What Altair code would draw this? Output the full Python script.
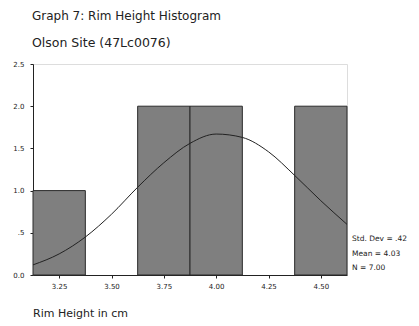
import altair as alt
import pandas as pd

# Histogram bins (rim height in cm) and counts
bin_start = [3.125, 3.375, 3.625, 3.875, 4.125, 4.375]
bin_end = [3.375, 3.625, 3.875, 4.125, 4.375, 4.625]
counts = [1, 0, 2, 2, 0, 2]

# Fitted normal curve
curve_x = [3.125, 3.25, 3.375, 3.50, 3.625, 3.75, 3.875, 4.00, 4.125, 4.25, 4.375, 4.50, 4.625]
curve_y = [0.12, 0.25, 0.45, 0.72, 1.04, 1.33, 1.56, 1.67, 1.63, 1.46, 1.18, 0.88, 0.60]

x_ticks = [3.25, 3.50, 3.75, 4.00, 4.25, 4.50]
y_ticks = [0.0, 0.5, 1.0, 1.5, 2.0, 2.5]

stats = ["Std. Dev = .42", "Mean = 4.03", "N = 7.00"]
title = "Graph 7: Rim Height Histogram"
subtitle = "Olson Site (47Lc0076)"
x_title = "Rim Height in cm"

FONT = "DejaVu Sans"
W, H = 314, 211

bars_df = pd.DataFrame({"start": bin_start, "end": bin_end, "count": counts})
bars_df = bars_df[bars_df["count"] > 0]
curve_df = pd.DataFrame({"x": curve_x, "y": curve_y})

xscale = alt.Scale(domain=[3.125, 4.625], nice=False, zero=False)
yscale = alt.Scale(domain=[0, 2.5], nice=False)

bars = alt.Chart(bars_df).mark_rect(
    fill="#7f7f7f", stroke="#2a2a2a", strokeWidth=1
).encode(
    x=alt.X("start:Q", scale=xscale, axis=alt.Axis(
        values=x_ticks, format=".2f", title=None, grid=False,
        labelFontSize=7, labelFont=FONT, labelColor="#222",
        tickSize=3, tickColor="#222", domainColor="#222", labelPadding=4)),
    x2="end:Q",
    y=alt.Y("count:Q", scale=yscale, axis=alt.Axis(
        values=y_ticks, title=None, grid=False,
        labelExpr="datum.value == 0.5 ? '.5' : format(datum.value, '.1f')",
        labelFontSize=7, labelFont=FONT, labelColor="#222",
        tickSize=3, tickColor="#222", domainColor="#222", labelPadding=6)),
    y2=alt.datum(0),
)

line = alt.Chart(curve_df).mark_line(
    color="#222", strokeWidth=1, interpolate="monotone"
).encode(x=alt.X("x:Q", scale=xscale), y=alt.Y("y:Q", scale=yscale))


def label(txt, x, y, size, baseline="alphabetic"):
    return alt.Chart(pd.DataFrame({"t": [txt]})).mark_text(
        align="left", baseline=baseline, fontSize=size, font=FONT, color="#222"
    ).encode(x=alt.value(x), y=alt.value(y), text="t:N")


stat_layers = [label(s, W + 5, 175 + 14.5 * i, 7.5, "middle") for i, s in enumerate(stats)]

chart = alt.layer(
    bars, line,
    *stat_layers,
    label(title, -1, -44, 12),
    label(subtitle, -1, -17, 12.5),
    label(x_title, 0, H + 39, 11, "middle"),
).properties(
    width=W, height=H,
    padding={"left": 25, "top": 56, "right": 60, "bottom": 50},
    autosize=alt.AutoSizeParams(type="none"),
).configure_view(stroke="#222", strokeWidth=1).configure(background="white")

chart.save("out.html", embed_options={"renderer": "svg", "actions": False})
